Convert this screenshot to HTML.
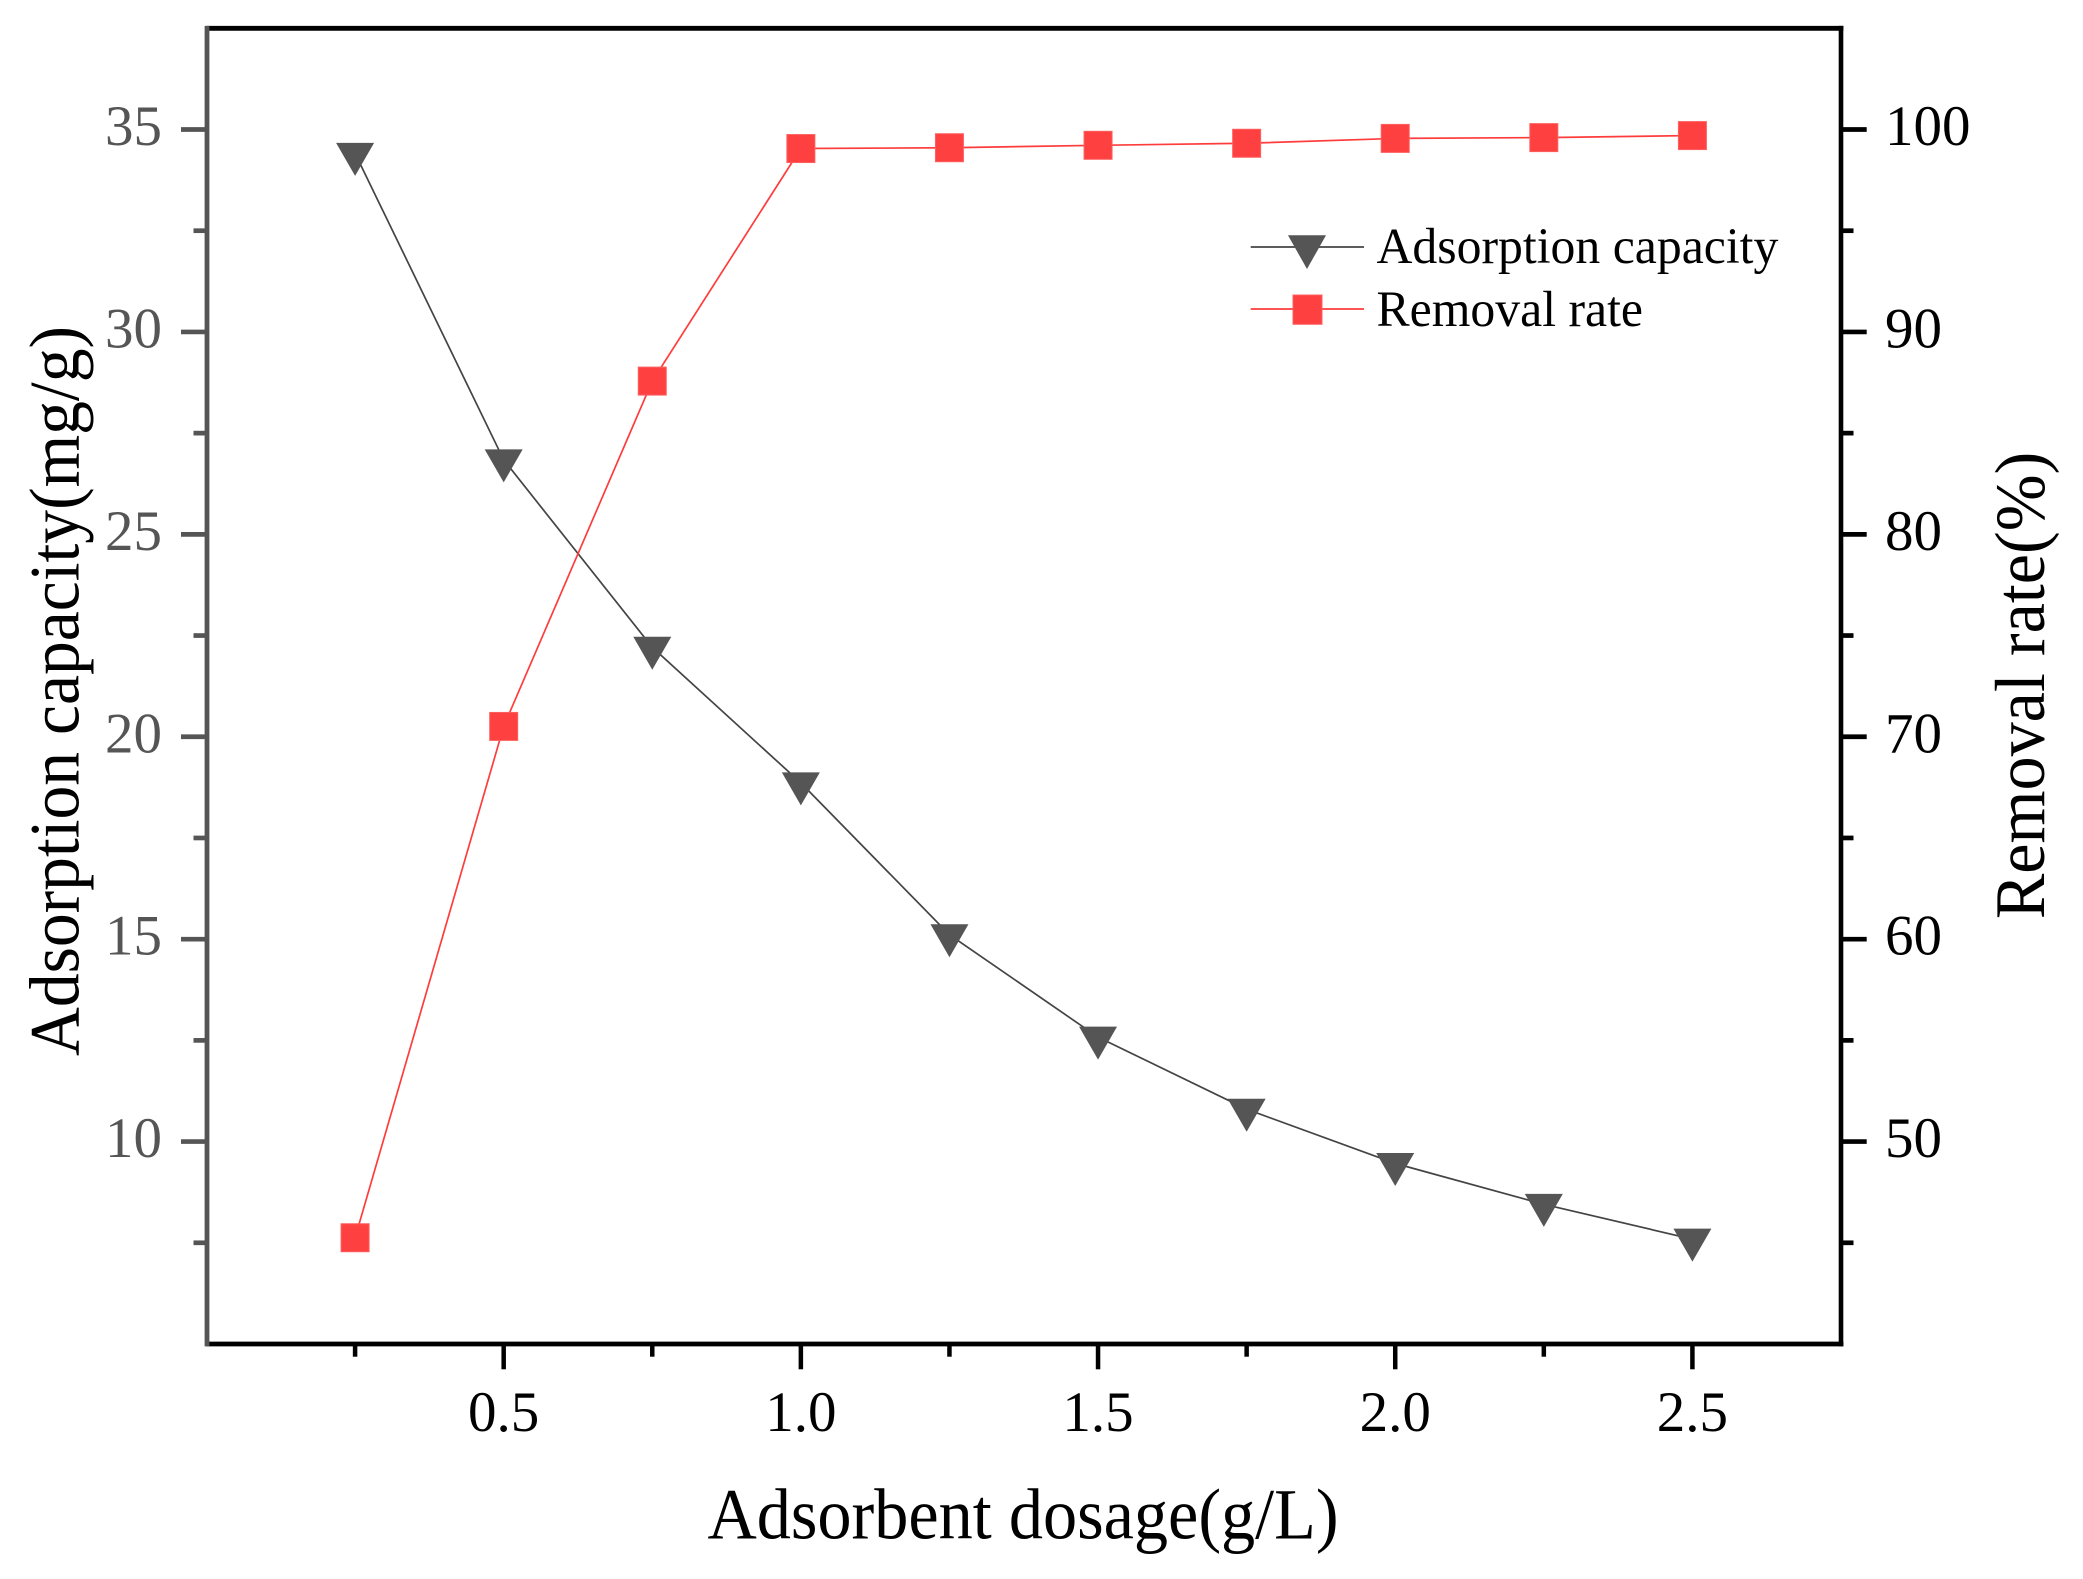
<!DOCTYPE html>
<html lang="en">
<head>
<meta charset="utf-8">
<title>Adsorption capacity and removal rate vs adsorbent dosage</title>
<style>
html,body{margin:0;padding:0;background:#fff;}
svg{display:block;}
text{font-family:"Liberation Serif","DejaVu Serif",serif;}
</style>
</head>
<body>
<svg id="chart" xmlns="http://www.w3.org/2000/svg" width="2083" height="1579" viewBox="0 0 2083 1579">
  <rect x="0" y="0" width="2083" height="1579" fill="#ffffff"/>
  <g id="series-layer"></g>
  <g id="axis-layer"></g>
  <text transform="translate(1023 1538.5) scale(0.948 1)" font-size="72" text-anchor="middle" fill="#000">Adsorbent dosage(g/L)</text>
  <text transform="translate(78.5 691) rotate(-90) scale(0.952 1)" font-size="71" text-anchor="middle" fill="#000">Adsorption capacity(mg/g)</text>
  <text transform="translate(2044 685.5) rotate(-90) scale(0.96 1)" font-size="71" text-anchor="middle" fill="#000">Removal rate(%)</text>
  <g>
    <g>
      <line x1="1250.7" y1="247" x2="1364" y2="247" stroke="#444" stroke-width="1.7"/>
      <polygon points="1288,235.3 1326,235.3 1307,269" fill="#555"/>
      <text transform="translate(1376.5 263) scale(0.985 1)" font-size="50.5" fill="#000">Adsorption capacity</text>
    </g>
    <g>
      <line x1="1250.7" y1="309" x2="1364" y2="309" stroke="#ff3c3c" stroke-width="1.7"/>
      <rect x="1293" y="295" width="29" height="29.3" fill="#ff4040" stroke="#ff6060" stroke-width="1"/>
      <text transform="translate(1376.5 326) scale(0.985 1)" font-size="50.5" fill="#000">Removal rate</text>
    </g>
  </g>
</svg>
<script>
const dosages = [0.25, 0.5, 0.75, 1.0, 1.25, 1.5, 1.75, 2.0, 2.25, 2.5];
const adsorptionCapacity = [34.41, 26.84, 22.21, 18.86, 15.11, 12.58, 10.80, 9.46, 8.45, 7.59];
const removalRate = [45.25, 70.51, 87.57, 99.06, 99.10, 99.22, 99.32, 99.56, 99.60, 99.70];

const xMajorTicks = [0.5, 1.0, 1.5, 2.0, 2.5];
const xMinorTicks = [0.25, 0.75, 1.25, 1.75, 2.25];
const xTickLabels = ["0.5", "1.0", "1.5", "2.0", "2.5"];
const leftMajorTicks = [10, 15, 20, 25, 30, 35];
const leftMinorTicks = [7.5, 12.5, 17.5, 22.5, 27.5, 32.5];
const leftTickLabels = ["10", "15", "20", "25", "30", "35"];
const rightMajorTicks = [50, 60, 70, 80, 90, 100];
const rightMinorTicks = [45, 55, 65, 75, 85, 95];
const rightTickLabels = ["50", "60", "70", "80", "90", "100"];

const xDomain = [0, 2.75];
const leftDomain = [5, 37.5];
const rightDomain = [40, 105];

const SVG_NS = "http://www.w3.org/2000/svg";
const plot = { left: 206.5, right: 1841, top: 28.3, bottom: 1344 };
const seriesLayer = document.getElementById("series-layer");
const axisLayer = document.getElementById("axis-layer");

function xScale(v) {
  return plot.left + (v - xDomain[0]) / (xDomain[1] - xDomain[0]) * (plot.right - plot.left);
}
function leftScale(v) {
  return plot.bottom - (v - leftDomain[0]) / (leftDomain[1] - leftDomain[0]) * (plot.bottom - plot.top);
}
function rightScale(v) {
  return plot.bottom - (v - rightDomain[0]) / (rightDomain[1] - rightDomain[0]) * (plot.bottom - plot.top);
}
function make(tag, attrs, parent) {
  const el = document.createElementNS(SVG_NS, tag);
  Object.keys(attrs).forEach(function (k) { el.setAttribute(k, attrs[k]); });
  parent.appendChild(el);
  return el;
}
function seg(x1, y1, x2, y2, color, width, parent) {
  return make("line", { x1: x1, y1: y1, x2: x2, y2: y2, stroke: color, "stroke-width": width }, parent);
}

/* series lines */
const adsorptionPath = make("polyline", {
  points: dosages.map(function (d, i) { return xScale(d) + "," + leftScale(adsorptionCapacity[i]); }).join(" "),
  fill: "none", stroke: "#444", "stroke-width": 1.7
}, seriesLayer);



const removalPath = make("polyline", {
  points: dosages.map(function (d, i) { return xScale(d) + "," + rightScale(removalRate[i]); }).join(" "),
  fill: "none", stroke: "#ff3c3c", "stroke-width": 1.7
}, seriesLayer);



/* markers */
dosages.forEach(function (d, i) {
  const px = xScale(d);
  const py = leftScale(adsorptionCapacity[i]);
  const tri = make("polygon", {
    points: (px - 19) + "," + (py - 10.5) + " " + (px + 19) + "," + (py - 10.5) + " " + px + "," + (py + 22.5),
    fill: "#555"
  }, seriesLayer);
  
  
});
dosages.forEach(function (d, i) {
  const px = xScale(d);
  const py = rightScale(removalRate[i]);
  const sq = make("rect", {
    x: px - 14, y: py - 14, width: 28, height: 28,
    fill: "#ff4040", stroke: "#ff6060", "stroke-width": 1
  }, seriesLayer);
  
  
});

/* bottom axis ticks */
xMajorTicks.forEach(function (v, i) {
  const t = seg(xScale(v), plot.bottom, xScale(v), plot.bottom + 25.3, "#000", 4.5, axisLayer);
  
  
  const label = make("text", { x: xScale(v), y: 1431, "font-size": 57, "text-anchor": "middle", fill: "#000" }, axisLayer);
  label.textContent = xTickLabels[i];
  
  
});
xMinorTicks.forEach(function (v) {
  const t = seg(xScale(v), plot.bottom, xScale(v), plot.bottom + 12.7, "#000", 4.5, axisLayer);
  
  
});

/* right axis ticks */
rightMajorTicks.forEach(function (v, i) {
  const t = seg(plot.right, rightScale(v), plot.right + 25.7, rightScale(v), "#000", 4.7, axisLayer);
  
  
  const label = make("text", { x: 1885, y: rightScale(v) + 15.5, "font-size": 57, fill: "#000" }, axisLayer);
  label.textContent = rightTickLabels[i];
  
  
});
rightMinorTicks.forEach(function (v) {
  const t = seg(plot.right, rightScale(v), plot.right + 12.5, rightScale(v), "#000", 4.7, axisLayer);
  
  
});

/* left axis ticks */
leftMajorTicks.forEach(function (v, i) {
  const t = seg(plot.left, leftScale(v), plot.left - 25.5, leftScale(v), "#555", 4.7, axisLayer);
  
  
  const label = make("text", { x: 162, y: leftScale(v) + 15.5, "font-size": 57, "text-anchor": "end", fill: "#555" }, axisLayer);
  label.textContent = leftTickLabels[i];
  
  
});
leftMinorTicks.forEach(function (v) {
  const t = seg(plot.left, leftScale(v), plot.left - 13, leftScale(v), "#555", 4.7, axisLayer);
  
  
});

/* spines */
const bottomSpine = seg(plot.left, plot.bottom, plot.right + 2.4, plot.bottom, "#000", 4.8, axisLayer);


const topSpine = seg(plot.left, plot.top, plot.right + 2.4, plot.top, "#000", 4.8, axisLayer);


const rightSpine = seg(plot.right, plot.top - 2.4, plot.right, plot.bottom + 2.4, "#000", 4.6, axisLayer);


const leftSpine = seg(plot.left + 0.5, plot.top - 2.4, plot.left + 0.5, plot.bottom + 2.4, "#555", 4.8, axisLayer);


</script>
</body>
</html>
